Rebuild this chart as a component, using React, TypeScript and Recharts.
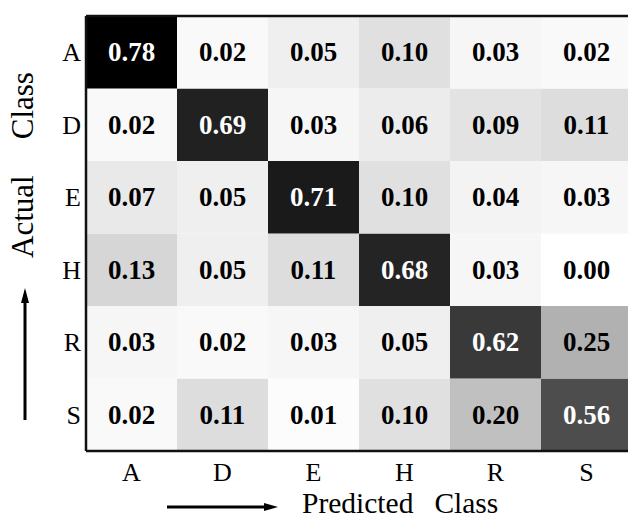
import { Bar, Cell, ComposedChart, Label, ReferenceLine, XAxis, YAxis } from 'recharts';

const predictedClasses = ['A', 'D', 'E', 'H', 'R', 'S'];
const actualClasses = ['A', 'D', 'E', 'H', 'R', 'S'];

// one row per actual class, columns follow predictedClasses
const rowA = [0.78, 0.02, 0.05, 0.1, 0.03, 0.02];
const rowD = [0.02, 0.69, 0.03, 0.06, 0.09, 0.11];
const rowE = [0.07, 0.05, 0.71, 0.1, 0.04, 0.03];
const rowH = [0.13, 0.05, 0.11, 0.68, 0.03, 0.0];
const rowR = [0.03, 0.02, 0.03, 0.05, 0.62, 0.25];
const rowS = [0.02, 0.11, 0.01, 0.1, 0.2, 0.56];

const matrix = [rowA, rowD, rowE, rowH, rowR, rowS];

const serif = { fontFamily: 'Liberation Serif' };

// every cell takes one band of the stack; the value only sets its shade
const tableData = predictedClasses.map((p, j) => {
  const row: Record<string, string | number> = { name: p };
  actualClasses.forEach((a, i) => {
    row[`${a}_band`] = 1;
    row[a] = matrix[i][j];
  });
  return row;
});

function shade(v: number) {
  const g = Math.round(255 * Math.pow(Math.max(0, 1 - v / 0.78), 0.95));
  return `rgb(${g},${g},${g})`;
}

function CellLabel(props: any, rowIndex: number) {
  const { x, y, width, height, index } = props;
  const v = matrix[rowIndex][index];
  return (
    <text
      x={x + width / 2}
      y={y + height / 2 + 9}
      textAnchor="middle"
      style={serif}
      fontWeight="bold"
      fontSize={27}
      fill={v > 0.5 ? '#ffffff' : '#000000'}
    >
      {v.toFixed(2)}
    </text>
  );
}

function XTick(props: any) {
  const { x, y, payload } = props;
  return (
    <text x={x} y={y + 22} textAnchor="middle" style={serif} fontSize={26} fill="#000">
      {payload.value}
    </text>
  );
}

function YTick(props: any) {
  const { x, y, payload } = props;
  return (
    <text x={x + 3} y={y + 9} textAnchor="end" style={serif} fontSize={26} fill="#000">
      {actualClasses[5 - Math.floor(payload.value)]}
    </text>
  );
}

function XTitle(props: any) {
  const { x, y } = props.viewBox;
  return (
    <g>
      <line x1={x + 81} y1={y + 56} x2={x + 181} y2={y + 56} stroke="#000" strokeWidth={3} />
      <polygon points={`${x + 192},${y + 56} ${x + 178},${y + 52} ${x + 178},${y + 60}`} fill="#000" />
      <text x={x + 216} y={y + 62} style={serif} fontSize={29.5} fill="#000">
        Predicted
        <tspan dx={21}>Class</tspan>
      </text>
    </g>
  );
}

function YTitle(props: any) {
  const { y } = props.viewBox;
  return (
    <g>
      <line x1={25} y1={y + 404} x2={25} y2={y + 283} stroke="#000" strokeWidth={3} />
      <polygon points={`25,${y + 272} 21,${y + 287} 29,${y + 287}`} fill="#000" />
      <text
        transform={`translate(33, ${y + 149}) rotate(-90)`}
        textAnchor="middle"
        style={serif}
        fontSize={31}
        fill="#000"
      >
        Actual
        <tspan dx={36}>Class</tspan>
      </text>
    </g>
  );
}

export default function App() {
  const stackOrder = [...actualClasses].reverse();
  return (
    <div style={{ width: 628, height: 520, overflow: 'hidden', background: '#fff' }}>
      <style>{'body{margin:0}'}</style>
      <ComposedChart
        width={640}
        height={520}
        data={tableData}
        margin={{ top: 16, right: 8, bottom: 0, left: 0 }}
        barCategoryGap={0}
        barGap={0}
      >
        {stackOrder.map((a) => {
          const i = actualClasses.indexOf(a);
          return (
            <Bar
              key={a}
              dataKey={`${a}_band`}
              stackId="cm"
              isAnimationActive={false}
              label={(p: any) => CellLabel(p, i)}
            >
              {predictedClasses.map((p, j) => (
                <Cell key={p} fill={shade(matrix[i][j])} />
              ))}
            </Bar>
          );
        })}
        <XAxis
          dataKey="name"
          height={69}
          tickLine={false}
          axisLine={{ stroke: '#111', strokeWidth: 2.5 }}
          tick={<XTick />}
          interval={0}
        >
          <Label content={<XTitle />} />
        </XAxis>
        <YAxis
          type="number"
          domain={[0, 6]}
          ticks={[0.5, 1.5, 2.5, 3.5, 4.5, 5.5]}
          width={86}
          tickLine={false}
          axisLine={{ stroke: '#111', strokeWidth: 2.5 }}
          tick={<YTick />}
          interval={0}
        >
          <Label content={<YTitle />} />
        </YAxis>
        <ReferenceLine y={6} stroke="#111" strokeWidth={2.5} />
      </ComposedChart>
    </div>
  );
}
